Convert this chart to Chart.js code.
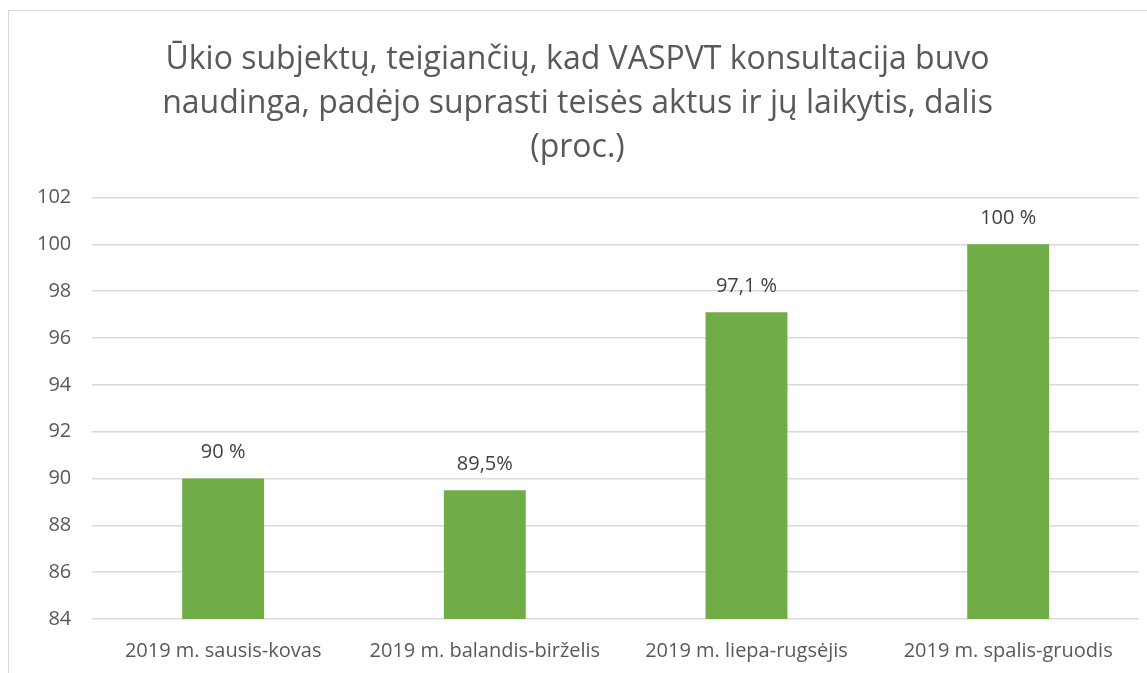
<!DOCTYPE html>
<html>
<head>
<meta charset="utf-8">
<script src="https://cdn.jsdelivr.net/npm/chart.js@4"></script>
<style>
  html, body { margin: 0; padding: 0; background: #fff; overflow: hidden; }
  #box {
    position: absolute; left: 8px; top: 10px;
    width: 1152px; height: 680px;
    border: 1px solid #d9d9d9; background: #fff;
  }
</style>
</head>
<body>
<div id="box"><canvas id="chart" width="1152" height="680"></canvas></div>
<script>
const categories = ['2019 m. sausis-kovas', '2019 m. balandis-birželis', '2019 m. liepa-rugsėjis', '2019 m. spalis-gruodis'];
const values = [90, 89.5, 97.1, 100];
const valueLabels = ['90 %', '89,5%', '97,1 %', '100 %'];
const yMin = 84;
const yMax = 102;
const yStep = 2;

const titleLines = [
    'Ūkio subjektų, teigiančių, kad VASPVT konsultacija buvo',
    'naudinga, padėjo suprasti teisės aktus ir jų laikytis, dalis',
    '(proc.)'
];

// simple value labels above bars
const barLabels = {
    id: 'barLabels',
    afterDatasetsDraw(chart) {
        const ctx = chart.ctx;
        const meta = chart.getDatasetMeta(0);
        ctx.save();
        ctx.font = '20px "Open Sans"';
        ctx.fillStyle = '#404040';
        ctx.textAlign = 'center';
        ctx.textBaseline = 'middle';
        meta.data.forEach((bar, i) => {
            ctx.fillText(valueLabels[i], bar.x, bar.y - 26);
        });
        ctx.restore();
    }
};

const ctx = document.getElementById('chart');

new Chart(ctx, {
    type: 'bar',
    data: {
        labels: categories,
        datasets: [{
            data: values,
            backgroundColor: '#70ad47',
            categoryPercentage: 1,
            barPercentage: 0.313
        }]
    },
    options: {
        responsive: false,
        animation: false,
        layout: { padding: { left: 7, right: 22, top: 27, bottom: 16 } },
        plugins: {
            legend: { display: false },
            tooltip: { enabled: false },
            title: {
                display: true,
                text: titleLines,
                color: '#595959',
                font: { family: 'Open Sans', size: 32, weight: 'normal', lineHeight: 1.37 },
                padding: { top: 0, bottom: 28 }
            }
        },
        scales: {
            x: {
                grid: { display: false },
                border: { display: false },
                ticks: {
                    color: '#595959',
                    font: { family: 'Open Sans', size: 20 },
                    padding: 12,
                    maxRotation: 0
                }
            },
            y: {
                min: yMin,
                max: yMax,
                grid: { color: '#d9d9d9', lineWidth: 1.5, drawTicks: false },
                border: { display: false },
                ticks: {
                    stepSize: yStep,
                    color: '#595959',
                    font: { family: 'Open Sans', size: 20 },
                    padding: 21
                }
            }
        }
    },
    plugins: [barLabels]
});
</script>
</body>
</html>
